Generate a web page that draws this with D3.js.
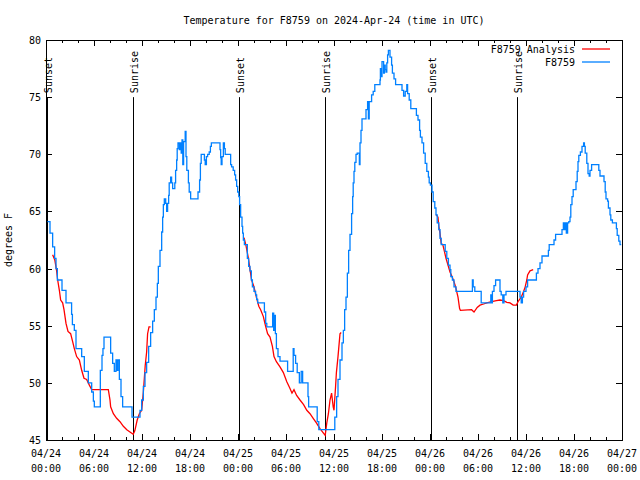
<!DOCTYPE html>
<html lang="en">
<head>
    <meta charset="UTF-8">
    <title>F8759 temperature</title>
    <script src="https://cdn.jsdelivr.net/npm/d3@7"></script>
    <style>
        body { margin: 0; background: #fff; }
        text { font-family: "DejaVu Sans Mono", monospace; font-size: 10px; fill: #000; }
    </style>
</head>
<body>
<script>
    // hours after 2024-04-24 00:00 UTC, temperature in F
    const stationHours = [0.17, 0.5, 0.83, 1.08, 1.25, 1.42, 2.0, 2.5, 3.2, 3.3, 3.54, 3.75, 4.46, 4.79, 5.29, 5.71, 5.92, 6.04,
        6.79, 7.0, 7.12, 7.25, 8.08, 8.33, 8.54, 8.75, 8.875, 9.0, 9.17, 9.375, 9.58, 10.75, 11.75, 11.96, 12.17, 12.375,
        12.58, 12.83, 13.08, 13.33, 13.54, 13.75, 13.92, 14.04, 14.25, 14.46, 14.58, 14.67, 14.79, 14.96, 15.08, 15.2,
        15.33, 15.4, 15.58, 15.7, 15.83, 16.1, 16.2, 16.33, 16.4, 16.5, 16.67, 16.8, 16.9, 17.0, 17.1, 17.2, 17.4, 17.5,
        17.6, 17.8, 17.9, 18.08, 19.0, 19.2, 19.3, 19.4, 19.8, 19.9, 20.05, 20.2, 20.4, 20.55, 20.67, 21.75, 21.83, 21.9,
        22.0, 22.17, 22.3, 22.4, 23.08, 23.2, 23.4, 23.58, 23.7, 23.83, 23.96, 24.1, 24.2, 24.33, 24.5, 24.58, 24.67, 24.8,
        25.17, 25.33, 25.5, 25.67, 25.8, 26.0, 26.2, 26.33, 26.46, 27.3, 27.46, 27.6, 28.33, 28.46, 28.54, 28.67, 28.8,
        29.0, 29.25, 30.2, 30.9, 31.0, 31.2, 31.4, 31.67, 31.9, 32.08, 32.75, 32.83, 33.9, 34.1, 36.1, 36.33, 36.5, 36.75,
        37.0, 37.17, 37.33, 37.5, 37.67, 37.83, 38.0, 38.2, 38.33, 38.4, 38.5, 38.6, 38.75, 38.9, 39.17, 39.25, 39.375,
        39.5, 40.0, 40.2, 40.3, 40.4, 40.7, 40.9, 41.1, 41.75, 41.8, 41.9, 42.0, 42.2, 42.3, 42.4, 42.5, 42.6, 42.7, 42.8,
        43.0, 43.2, 43.3, 43.5, 43.7, 44.5, 44.7, 44.9, 45.1, 45.2, 45.4, 45.6, 46.3, 46.5, 46.7, 46.8, 47.0, 47.2, 47.4,
        47.6, 47.8, 47.9, 48.05, 48.25, 48.4, 48.6, 48.75, 48.9, 49.1, 49.25, 49.4, 49.9, 50.1, 50.3, 50.5, 50.6, 50.8,
        51.0, 51.25, 53.3, 53.4, 53.6, 54.4, 55.6, 55.7, 55.8, 56.0, 56.2, 56.75, 56.9, 57.1, 57.25, 57.5, 59.25, 59.4,
        59.55, 59.7, 60.0, 60.2, 61.3, 61.5, 61.75, 62.0, 62.4, 62.8, 62.9, 63.5, 63.7, 64.5, 64.67, 64.8, 64.9, 65.04,
        65.2, 65.35, 65.5, 65.6, 65.75, 65.9, 66.25, 66.4, 66.5, 66.6, 66.8, 67.0, 67.2, 67.3, 67.4, 67.6, 67.75, 67.9,
        68.0, 68.2, 69.1, 69.25, 69.75, 69.9, 70.0, 70.2, 70.3, 70.5, 70.6, 70.8, 71.3, 71.4, 71.6, 71.75, 71.9]
    const stationTemps = [64.1, 63.1, 61.9, 60.9, 60.0, 59.0, 58.1, 57.0, 56.0, 55.1, 54.6, 53.0, 52.3, 51.0, 50.0, 49.2, 48.4, 47.9,
        51.1, 52.4, 53.0, 54.0, 52.6, 51.7, 51.0, 52.0, 51.1, 52.0, 50.3, 48.8, 47.9, 47.0, 47.6, 48.5, 49.7, 50.9,
        51.8, 53.2, 54.4, 55.4, 56.4, 57.5, 58.7, 60.2, 61.6, 63.2, 64.5, 65.6, 66.1, 65.7, 65.0, 65.7,
        66.4, 67.5, 68.0, 67.5, 67.0, 67.5, 68.6, 69.5, 70.5, 71.0, 70.4, 71.0, 70.1, 71.25, 69.1, 71.1, 72.0, 69.8,
        68.6, 67.5, 66.7, 66.1, 66.7, 67.75, 69.2, 70.0, 69.5, 69.1, 69.8, 70.0, 70.2, 70.7, 71.0, 70.4, 69.7, 69.1,
        69.8, 71.0, 70.5, 70.0, 69.1, 68.9, 68.6, 68.2, 67.75, 67.2, 66.7, 66.3, 65.6, 64.5, 63.7, 63.1, 62.5, 62.1,
        60.9, 60.2, 59.8, 59.0, 58.4, 58.0, 57.7, 57.3, 57.0, 56.2, 55.2, 54.9, 56.1, 54.6, 55.9, 54.3, 53.0,
        52.3, 51.9, 51.0, 53.0, 52.4, 51.7, 50.9, 50.0, 51.0, 50.0, 48.8, 47.9, 46.6, 45.9, 47.0, 48.8, 50.3, 52.0,
        53.5, 54.6, 56.4, 57.5, 59.6, 61.6, 63.0, 64.8, 66.3, 67.5, 68.5, 69.3, 70.0, 70.1, 69.1, 71.0, 72.1,
        73.1, 73.9, 74.6, 73.1, 74.6, 75.2, 75.5, 76.1, 76.5, 77.5, 76.8, 78.1, 77.1, 77.8, 77.4, 77.2, 78.0, 78.7, 79.1,
        78.5, 77.8, 77.1, 76.6, 76.1, 75.6, 75.1, 75.5, 76.1, 75.3, 74.75, 74.0, 73.4, 73.0, 72.1, 71.5, 71.0, 70.1, 69.2,
        68.5, 68.0, 67.5, 67.3, 66.7, 65.85, 65.3, 64.7, 64.0, 63.4, 62.65, 62.1, 61.5, 60.9, 60.3, 59.9, 59.3, 59.0,
        58.4, 58.0, 59.0, 58.4, 58.0, 57.0, 57.7, 57.0, 58.0, 58.5, 59.0, 58.0, 57.7, 57.0, 57.7, 58.0, 57.5, 57.0,
        57.5, 58.0, 58.4, 59.0, 59.6, 60.0, 60.5, 61.1, 61.1, 61.6, 62.1, 62.5, 63.0, 63.4, 64.0, 63.4, 64.0, 63.1,
        64.0, 64.1, 64.5, 65.6, 66.3, 66.9, 67.6, 68.5, 69.35, 69.9, 70.2, 70.7, 71.0, 70.7, 70.1, 69.2, 68.3, 68.1,
        68.6, 69.1, 68.6, 68.1, 67.6, 66.7, 66.1, 65.9, 65.3, 64.7, 64.25, 64.0, 63.5, 62.9, 62.4, 62.1, 62.1]

    // analysis series, one array per night
    const analysisNight1 = [[0.83, 61.2], [1.1, 60.75], [1.33, 59.8], [1.46, 59.0], [1.67, 58.1], [1.83, 57.25], [2.08, 57.0],
        [2.25, 56.4], [2.5, 55.2], [2.75, 54.5], [3.08, 54.3], [3.33, 53.6], [3.54, 53.0], [3.83, 52.3], [4.17, 52.0],
        [4.46, 51.1], [4.75, 50.4], [5.08, 50.3], [5.42, 49.8], [5.71, 49.4], [7.79, 49.4], [8.0, 48.5], [8.08, 47.9],
        [8.42, 47.3], [8.83, 46.9], [9.25, 46.6], [9.67, 46.2], [10.1, 45.9], [10.5, 45.7], [10.9, 45.5], [11.1, 45.8],
        [11.4, 46.75], [11.67, 47.3], [11.96, 47.6], [12.17, 49.2], [12.4, 51.5], [12.58, 52.7], [12.7, 54.3],
        [12.875, 54.9], [13.08, 54.9]]
    const analysisNight2 = [[24.75, 62.7], [25.0, 62.0], [25.3, 60.9], [25.5, 59.9], [25.7, 59.0], [26.0, 58.4], [26.33, 57.4],
        [26.6, 56.7], [26.83, 56.4], [27.17, 55.8], [27.4, 55.1], [27.7, 54.3], [28.0, 54.0], [28.3, 53.2], [28.5, 52.3],
        [28.8, 51.85], [29.25, 51.4], [29.67, 50.9], [30.1, 50.1], [30.5, 49.5], [30.75, 49.1], [31.0, 49.4], [31.33, 48.9],
        [31.75, 48.5], [32.2, 48.1], [32.6, 47.6], [33.0, 47.3], [33.4, 46.9], [33.8, 46.5], [34.25, 46.0], [34.9, 45.4],
        [35.1, 46.5], [35.3, 47.3], [35.5, 48.5], [35.7, 49.1], [35.9, 47.9], [36.0, 47.6], [36.2, 49.7], [36.3, 50.9],
        [36.5, 52.3], [36.75, 54.3], [36.9, 54.4]]
    const analysisNight3 = [[48.75, 64.75], [49.0, 64.5], [49.1, 63.7], [49.25, 63.1], [49.4, 62.2], [49.6, 62.1], [49.8, 61.5],
        [50.0, 60.9], [50.25, 60.3], [50.5, 59.7], [50.75, 59.3], [51.0, 58.85], [51.2, 58.4], [51.5, 57.5], [51.7, 56.5],
        [51.8, 56.35], [53.2, 56.4], [53.5, 56.2], [53.9, 56.6], [54.25, 56.8], [54.7, 56.9], [55.1, 57.0], [55.7, 57.1],
        [56.3, 57.2], [56.75, 57.25], [57.2, 57.2], [57.6, 57.05], [58.0, 57.0], [58.4, 56.8], [58.8, 56.8], [59.0, 57.1],
        [59.2, 57.3], [59.4, 57.5], [59.7, 58.0], [59.9, 58.4], [60.1, 59.0], [60.2, 59.45], [60.5, 59.8], [60.9, 59.9]]

    const sunHours = [0.1, 10.9, 24.1, 34.9, 48.1, 58.9]
    const sunLabels = ['Sunset', 'Sunrise', 'Sunset', 'Sunrise', 'Sunset', 'Sunrise']
    const yTicks = [45, 50, 55, 60, 65, 70, 75, 80]

    const start = Date.UTC(2024, 3, 24)
    const toDate = h => new Date(start + h * 3600e3)

    const [width, height] = [640, 480]
    const margin = {left: 46, right: 18, top: 40, bottom: 40}

    const svg = d3.select('body').append('svg')
        .attr('width', width)
        .attr('height', height)

    const x = d3.scaleUtc()
        .domain([toDate(0), toDate(72)])
        .range([margin.left, width - margin.right])
    const y = d3.scaleLinear()
        .domain([45, 80])
        .range([height - margin.bottom, margin.top])

    const [x0, x1] = x.range()
    const [y0, y1] = y.range()

    // ticks, all drawn inward on the four sides
    const ticksG = svg.append('g').attr('stroke', '#000').attr('stroke-width', 1)
    const minor = x.ticks(d3.utcHour.every(2))
    minor.forEach(d => {
        const major = d.getUTCHours() % 6 === 0
        const len = major ? 6 : 3
        const px = Math.round(x(d)) + 0.5
        ticksG.append('line').attr('x1', px).attr('x2', px).attr('y1', y0).attr('y2', y0 - len)
        ticksG.append('line').attr('x1', px).attr('x2', px).attr('y1', y1).attr('y2', y1 + len)
    })
    yTicks.forEach(v => {
        const py = Math.round(y(v)) + 0.5
        ticksG.append('line').attr('x1', x0).attr('x2', x0 + 6).attr('y1', py).attr('y2', py)
        ticksG.append('line').attr('x1', x1).attr('x2', x1 - 6).attr('y1', py).attr('y2', py)
    })

    // tick labels
    const fmtDay = d3.utcFormat('%m/%d')
    const fmtTime = d3.utcFormat('%H:%M')
    x.ticks(d3.utcHour.every(6)).forEach(d => {
        const t = svg.append('text').attr('text-anchor', 'middle')
        t.append('tspan').attr('x', x(d)).attr('y', 457).text(fmtDay(d))
        t.append('tspan').attr('x', x(d)).attr('y', 472).text(fmtTime(d))
    })
    yTicks.forEach(v => {
        svg.append('text')
            .attr('x', x0 - 5)
            .attr('y', y(v) + 4)
            .attr('text-anchor', 'end')
            .text(v)
    })

    // sunrise / sunset markers
    sunHours.forEach((h, i) => {
        const px = Math.round(x(toDate(h))) + 0.5
        svg.append('line')
            .attr('x1', px).attr('x2', px)
            .attr('y1', y(75)).attr('y2', y0)
            .attr('stroke', '#000')
        svg.append('text')
            .attr('transform', `translate(${px + 1}, ${y(75) - 4}) rotate(-90)`)
            .attr('dominant-baseline', 'central')
            .text(sunLabels[i])
    })

    const line = d3.line()
        .x(d => x(toDate(d[0])))
        .y(d => y(d[1]))

    const plotG = svg.append('g').attr('fill', 'none').attr('stroke-width', 1.3)
    ;[analysisNight1, analysisNight2, analysisNight3].forEach(seg => {
        plotG.append('path')
            .attr('d', line(seg))
            .attr('stroke', '#ff0000')
    })
    const stationPts = stationHours.map((h, i) => [h, stationTemps[i]])
    plotG.append('path')
        .attr('d', line.curve(d3.curveStepAfter)(stationPts))
        .attr('stroke', '#0080ff')

    // frame
    svg.append('rect')
        .attr('x', x0 + 0.5).attr('y', y1 + 0.5)
        .attr('width', x1 - x0).attr('height', y0 - y1)
        .attr('fill', 'none').attr('stroke', '#000')

    // legend
    const legend = [['F8759 Analysis', '#ff0000'], ['F8759', '#0080ff']]
    legend.forEach((l, i) => {
        const ly = 49 + i * 13
        svg.append('text').attr('x', 575).attr('y', ly + 4).attr('text-anchor', 'end').text(l[0])
        svg.append('line').attr('x1', 582).attr('x2', 610).attr('y1', ly).attr('y2', ly)
            .attr('stroke', l[1]).attr('stroke-width', 1.3)
    })

    svg.append('text')
        .attr('x', (x0 + x1) / 2)
        .attr('y', 24)
        .attr('text-anchor', 'middle')
        .text('Temperature for F8759 on 2024-Apr-24 (time in UTC)')

    svg.append('text')
        .attr('transform', `translate(12, ${(y0 + y1) / 2}) rotate(-90)`)
        .attr('text-anchor', 'middle')
        .text('degrees F')
</script>
</body>
</html>
